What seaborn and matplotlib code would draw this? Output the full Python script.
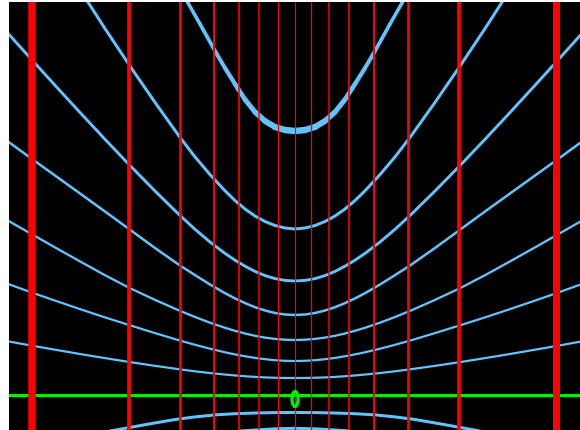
import numpy as np
import seaborn as sns
import matplotlib.pyplot as plt
from matplotlib.collections import LineCollection
from matplotlib.patches import Ellipse

# everything is in picture pixels (x to the right, y downward)
PX = 0.72  # one pixel in points at dpi 100

# red vertical lines: position and width
red_x = [32, 129, 180, 214, 239, 259, 278, 295, 311, 329, 349, 374, 408, 459, 556]
red_w = [7.5, 3.7, 2.7, 2.0, 1.7, 1.5, 1.3, 1.2, 1.3, 1.5, 1.7, 2.0, 2.7, 3.7, 7.0]

# green line and the small ellipse on it
green_y = 395
ring_xy = (295, 399)
ring_size = (6, 15)

# blue curves, half profile: distance from the middle and y
center_x = 295
a_dx = [0, 10, 20, 30, 40, 50, 60, 70, 80, 95, 107, 120]
a_y = [131, 130, 127, 121, 112, 99.5, 84, 68, 51, 24, 3, -20]
a_w = [6.5, 6.4, 6.1, 5.7, 5.2, 4.8, 4.4, 4.1, 3.8, 3.6, 3.5, 3.5]

b_dx = [0, 10, 20, 30, 40, 50, 60, 70, 85, 100, 115, 140, 165, 190, 207, 222]
b_y = [229, 228, 225.5, 221.5, 216, 209, 200.5, 190.8, 174.6, 156.9,
       137.4, 102.4, 66.1, 28.6, 2.2, -21]

grid_dx = [0, 10, 20, 30, 40, 50, 60, 70, 85, 100, 115, 140, 166, 190,
           215, 240, 263, 285, 300]
c_y = [281, 280.4, 278.6, 275.6, 271.4, 266.2, 260.2, 253.4, 242, 229.3,
       215.5, 191, 164.5, 139.3, 112.5, 85.3, 60, 35.6, 18.8]
d_y = [315, 314.5, 313, 310.5, 307.2, 303.1, 298.4, 293.2, 284.5, 275.1,
       265.5, 248, 229, 211.5, 193.5, 175.5, 159, 143, 132]
e_y = [340, 339.7, 338.9, 337.6, 335.8, 333.5, 330.8, 327.8, 322.7, 317,
       310.9, 299.9, 287.7, 275.2, 261.4, 247.4, 234.3, 221.8, 213.2]
f_y = [361, 360.8, 360.2, 359.2, 357.9, 356.3, 354.4, 352.3, 348.7, 344.8,
       340.6, 333.1, 325, 317.4, 309.1, 300.6, 292.6, 284.7, 279.3]
g_y = [378, 377.95, 377.75, 377.4, 376.9, 376.25, 375.45, 374.55, 373.05,
       371.3, 369.35, 365.85, 361.95, 358.1, 354, 349.7, 345.7, 341.7, 339]

h_dx = [0, 20, 40, 60, 80, 100, 120, 145, 166, 185, 205]
h_y = [412.5, 412.6, 413, 413.7, 414.9, 416.9, 419.5, 423.8, 427.6, 431, 434.8]

i_dx = [0, 20, 40, 55, 70]
i_y = [428.3, 428.8, 430, 431, 432.5]

blue = "#62c4ff"


def mirror(dx, y):
    dx = np.asarray(dx, float)
    y = np.asarray(y, float)
    xs = np.concatenate([center_x - dx[::-1], center_x + dx[1:]])
    ys = np.concatenate([y[::-1], y[1:]])
    return xs, ys


sns.set_style("white")
fig = plt.figure(figsize=(5.8, 4.3), dpi=100)
ax = fig.add_axes([9 / 580, 0, 571 / 580, 428 / 430])
ax.set_facecolor("black")

# the thick top curve gets thinner away from its vertex
xs, ys = mirror(a_dx, a_y)
_, ws = mirror(a_dx, a_w)
pts = np.column_stack([xs, ys]).reshape(-1, 1, 2)
segs = np.concatenate([pts[:-1], pts[1:]], axis=1)
lc = LineCollection(segs, colors=blue, linewidths=(ws[:-1] + ws[1:]) / 2 * PX,
                    capstyle="round", joinstyle="round", zorder=1)
ax.add_collection(lc)

curves = [(b_dx, b_y, 3.0), (grid_dx, c_y, 2.9), (grid_dx, d_y, 2.5),
          (grid_dx, e_y, 2.3), (grid_dx, f_y, 2.2), (grid_dx, g_y, 2.2),
          (h_dx, h_y, 3.0), (i_dx, i_y, 3.0)]
for dx, y, w in curves:
    xs, ys = mirror(dx, y)
    sns.lineplot(x=xs, y=ys, ax=ax, color=blue, linewidth=w * PX,
                 sort=False, estimator=None, zorder=1)

ax.axhline(green_y, color="#00f000", linewidth=3 * PX, zorder=2)
ax.vlines(red_x, -50, 500, colors="#ff0000",
          linewidths=[w * PX for w in red_w], zorder=3)
ax.add_patch(Ellipse(ring_xy, ring_size[0], ring_size[1], fill=False,
                     edgecolor="#00f000", linewidth=3.2 * PX, zorder=4))

ax.set_xlim(9, 580)
ax.set_ylim(430, 2)
ax.set_xticks([])
ax.set_yticks([])
ax.set_xlabel("")
ax.set_ylabel("")
for s in ax.spines.values():
    s.set_visible(False)

fig.savefig("out.png", dpi=100, facecolor="white")
